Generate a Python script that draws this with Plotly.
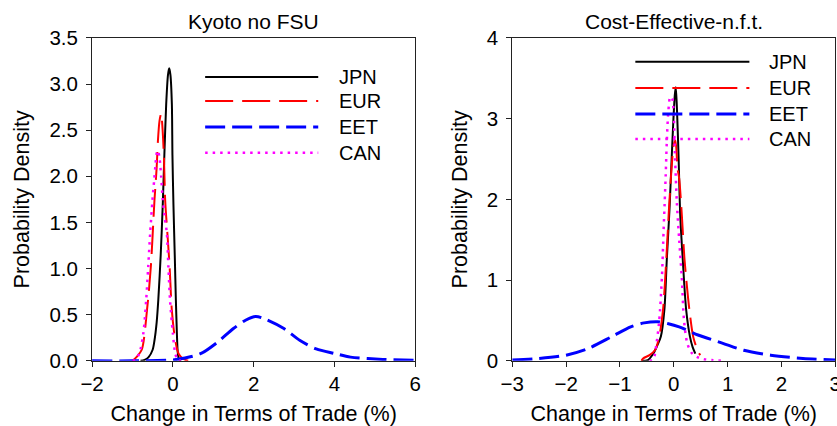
import plotly.graph_objects as go

# ---- Kyoto no FSU: density curves (x = % change, y = density) ----
kyoto_jpn_x = [-0.8, -0.7, -0.6, -0.5, -0.455, -0.4, -0.36, -0.3, -0.25, -0.21, -0.165, -0.12, -0.09,
               -0.06, -0.024, -0.01, 0.015, 0.05, 0.075, 0.1, 0.12, 0.15, 0.2]
kyoto_jpn_y = [0.0, 0.01, 0.04, 0.12, 0.22, 0.42, 0.66, 1.15, 1.69, 2.23, 2.78, 3.1, 3.17,
               3.1, 2.78, 2.23, 1.69, 1.1, 0.66, 0.3, 0.1, 0.02, 0.0]

kyoto_eur_x = [-1.0, -0.9, -0.77, -0.64, -0.545, -0.455, -0.4, -0.37, -0.33, -0.29, -0.26, -0.22,
               -0.19, -0.13, -0.08, -0.025, 0.06, 0.15, 0.26, 0.38]
kyoto_eur_y = [0.0, 0.04, 0.12, 0.55, 1.02, 1.74, 2.1, 2.38, 2.6, 2.68, 2.55, 2.2,
               1.74, 1.35, 1.02, 0.55, 0.22, 0.07, 0.02, 0.0]

kyoto_eet_x = [-2.0, -1.0, 0.0, 0.3, 0.7, 1.1, 1.5, 1.8, 2.05, 2.3, 2.75, 3.15, 3.55, 4.0, 4.4, 5.2, 6.0]
kyoto_eet_y = [0.0, 0.0, 0.01, 0.03, 0.08, 0.2, 0.35, 0.44, 0.48, 0.45, 0.35, 0.22, 0.13, 0.08, 0.04, 0.015, 0.005]

kyoto_can_x = [-1.0, -0.93, -0.83, -0.73, -0.66, -0.61, -0.56, -0.505, -0.46, -0.43, -0.40, -0.37,
               -0.33, -0.29, -0.25, -0.2, -0.15, -0.11, -0.07, 0.0, 0.06, 0.12, 0.2]
kyoto_can_y = [0.0, 0.01, 0.08, 0.3, 0.66, 1.02, 1.39, 1.74, 1.97, 2.12, 2.25, 2.28,
               2.2, 2.0, 1.75, 1.55, 1.39, 1.02, 0.66, 0.3, 0.08, 0.01, 0.0]

# ---- Cost-Effective-n.f.t. ----
ce_jpn_x = [-0.6, -0.48, -0.38, -0.3, -0.24, -0.175, -0.13, -0.08, -0.04, -0.01, 0.02, 0.037,
            0.06, 0.09, 0.12, 0.167, 0.23, 0.3, 0.35, 0.4]
ce_jpn_y = [0.0, 0.01, 0.09, 0.2, 0.3, 0.63, 1.25, 1.87, 2.5, 2.95, 3.3, 3.39,
            3.1, 2.5, 1.8, 1.25, 0.63, 0.3, 0.17, 0.09]

ce_eur_x = [-0.6, -0.57, -0.45, -0.35, -0.27, -0.2, -0.14, -0.09, -0.04, 0.0, 0.03, 0.07,
            0.1, 0.15, 0.2, 0.29, 0.36, 0.43, 0.49]
ce_eur_y = [0.0, 0.03, 0.07, 0.13, 0.3, 0.63, 1.25, 1.87, 2.4, 2.68, 2.73, 2.38,
            2.26, 1.8, 1.25, 0.63, 0.3, 0.15, 0.07]

ce_eet_x = [-3.0, -2.5, -2.0, -1.6, -1.15, -0.8, -0.55, -0.3, -0.1, 0.1, 0.45, 0.9, 1.3, 1.8, 2.4, 3.0]
ce_eet_y = [0.01, 0.03, 0.07, 0.15, 0.3, 0.42, 0.47, 0.485, 0.46, 0.42, 0.32, 0.22, 0.13, 0.07, 0.03, 0.01]

ce_can_x = [-0.45, -0.38, -0.32, -0.27, -0.22, -0.19, -0.17, -0.15, -0.13, -0.1, -0.065, -0.03,
            -0.007, 0.024, 0.056, 0.1, 0.148, 0.19, 0.25, 0.33, 0.43, 0.55, 0.7, 0.92]
ce_can_y = [0.0, 0.02, 0.22, 0.5, 1.04, 1.6, 1.95, 2.3, 2.71, 3.1, 3.27, 3.25,
            3.13, 2.51, 1.97, 1.5, 1.04, 0.5, 0.22, 0.1, 0.05, 0.02, 0.01, 0.0]

series_names = ["JPN", "EUR", "EET", "CAN"]
panel_titles = ["Kyoto no FSU", "Cost-Effective-n.f.t."]
x_label = "Change in Terms of Trade (%)"
y_label = "Probability Density"

FONT = "Arial, Liberation Sans, sans-serif"
styles = {
    "JPN": dict(color="#000000", width=2, dash="solid"),
    "EUR": dict(color="#FF0000", width=2, dash="28px,9px"),
    "EET": dict(color="#0000FF", width=3, dash="20px,7px"),
    "CAN": dict(color="#FF00FF", width=2.5, dash="2.5px,5px"),
}

panels = [
    (dict(JPN=(kyoto_jpn_x, kyoto_jpn_y), EUR=(kyoto_eur_x, kyoto_eur_y),
          EET=(kyoto_eet_x, kyoto_eet_y), CAN=(kyoto_can_x, kyoto_can_y)), "x", "y"),
    (dict(JPN=(ce_jpn_x, ce_jpn_y), EUR=(ce_eur_x, ce_eur_y),
          EET=(ce_eet_x, ce_eet_y), CAN=(ce_can_x, ce_can_y)), "x2", "y2"),
]

fig = go.Figure()
for data, xa, ya in panels:
    for name in series_names:
        xs, ys = data[name]
        fig.add_trace(go.Scatter(x=xs, y=ys, mode="lines", name=name, xaxis=xa, yaxis=ya,
                                 line=dict(shape="spline", smoothing=0.8, **styles[name]),
                                 showlegend=False, hoverinfo="skip"))

TICK_FONT = dict(family=FONT, size=20.5, color="#000000")
TITLE_FONT = dict(family=FONT, size=21.5, color="#000000")
axis_common = dict(showline=True, linecolor="#222222", linewidth=1, mirror=True,
                   ticks="outside", ticklen=5, tickwidth=1, tickcolor="#222222",
                   showgrid=False, zeroline=False, automargin=False,
                   ticklabeloverflow="allow", tickfont=TICK_FONT)

fig.update_layout(
    width=837, height=426,
    margin=dict(l=0, r=0, t=0, b=0, autoexpand=False),
    paper_bgcolor="white", plot_bgcolor="white",
    xaxis=dict(domain=[0.11, 0.496], range=[-2, 6], dtick=2, anchor="y",
               title=dict(text=x_label, font=TITLE_FONT, standoff=13),
               **axis_common),
    yaxis=dict(domain=[0.153, 0.911], range=[0, 3.5], dtick=0.5, tickformat=".1f", anchor="x",
               title=dict(text=y_label, font=TITLE_FONT, standoff=13),
               ticklabelstandoff=4, **axis_common),
    xaxis2=dict(domain=[0.612, 0.998], range=[-3, 3], dtick=1, anchor="y2",
                title=dict(text=x_label, font=TITLE_FONT, standoff=13),
                **axis_common),
    yaxis2=dict(domain=[0.153, 0.911], range=[0, 4], dtick=1, anchor="x2",
                title=dict(text=y_label, font=TITLE_FONT, standoff=13),
                ticklabelstandoff=4, **axis_common),
)

# panel titles
for title, xa in zip(panel_titles, ["x", "x2"]):
    fig.add_annotation(text=title, xref=f"{xa} domain", yref="paper", x=0.5, y=1 - 21 / 426,
                       xanchor="center", yanchor="middle", showarrow=False,
                       font=dict(family=FONT, size=21, color="#000000"))

# in-plot legends: long line samples with labels
legend_layout = [
    ("x", "y", 0.35, 0.70, 0.759, [0.879, 0.805, 0.724, 0.644]),
    ("x2", "y2", 0.381, 0.734, 0.789, [0.926, 0.845, 0.764, 0.687]),
]
for xa, ya, x0, x1, xt, rows in legend_layout:
    for name, yy in zip(series_names, rows):
        st = styles[name]
        fig.add_shape(type="line", xref=f"{xa} domain", yref=f"{ya} domain",
                      x0=x0, x1=x1, y0=yy, y1=yy,
                      line=dict(color=st["color"], width=st["width"], dash=st["dash"]))
        fig.add_annotation(text=name, xref=f"{xa} domain", yref=f"{ya} domain", x=xt, y=yy,
                           xanchor="left", yanchor="middle", showarrow=False,
                           font=dict(family=FONT, size=20, color="#000000"))

fig.write_html("out.html")
